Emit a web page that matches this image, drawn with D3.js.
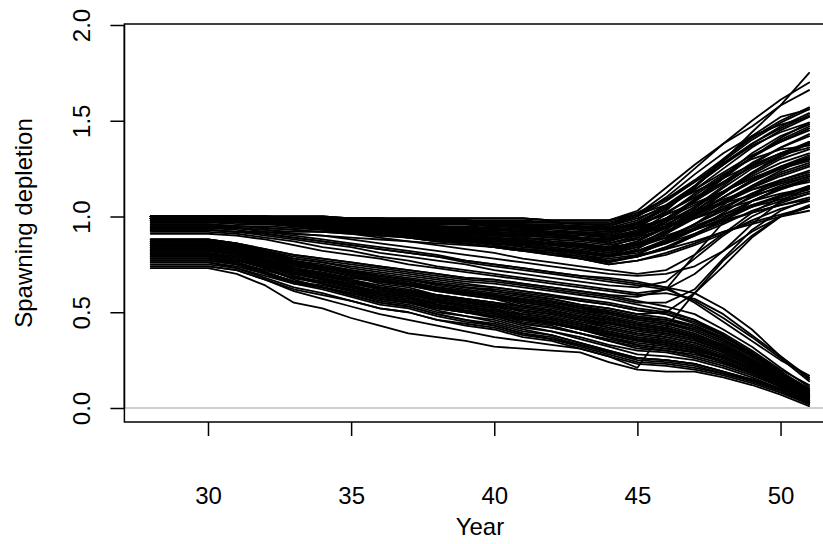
<!DOCTYPE html>
<html>
<head>
<meta charset="utf-8">
<script src="https://cdn.jsdelivr.net/npm/d3@7"></script>
<style>
  body { margin: 0; background: #fff; }
  svg text { font-family: "Liberation Sans", Arial, sans-serif; font-size: 24px; fill: #000; }
</style>
</head>
<body>
<svg id="chart" width="823" height="544"></svg>
<script>
// Simulation years
const years = [28,29,30,31,32,33,34,35,36,37,38,39,40,41,42,43,44,45,46,47,48,49,50,51];

// Axis ticks
const xTicks = [30, 35, 40, 45, 50];
const yTicks = [0, 0.5, 1, 1.5, 2];
const yTickLabels = ["0.0", "0.5", "1.0", "1.5", "2.0"];

// Runs that start near unfished level and recover late
const upperRuns = [
  [1.00,1.00,1.00,1.00,1.00,1.00,1.00,.99,.99,.99,.99,.99,.99,.99,.98,.98,.98,1.02,1.09,1.18,1.28,1.38,1.46,1.53],
  [1.00,1.00,1.00,1.00,1.00,.99,.99,.99,.99,.98,.98,.98,.97,.97,.97,.96,.96,1.00,1.08,1.18,1.29,1.40,1.49,1.56],
  [.99,.99,.99,.99,.98,.98,.98,.97,.97,.96,.96,.96,.95,.95,.94,.94,.93,.96,1.02,1.10,1.18,1.26,1.33,1.38],
  [1.00,1.00,1.00,1.00,.99,.99,.98,.98,.97,.97,.96,.96,.95,.94,.94,.93,.92,.96,1.04,1.14,1.25,1.36,1.45,1.52],
  [.99,.99,.99,.99,.98,.97,.97,.96,.95,.95,.94,.93,.93,.92,.91,.90,.89,.93,.99,1.08,1.17,1.26,1.33,1.39],
  [1.00,1.00,1.00,1.00,.99,.98,.97,.97,.96,.95,.94,.93,.92,.91,.91,.89,.88,.90,.95,1.01,1.07,1.14,1.19,1.23],
  [.99,.99,.99,.98,.98,.97,.96,.95,.94,.93,.92,.91,.90,.89,.88,.87,.85,.88,.94,1.02,1.10,1.18,1.25,1.30],
  [1.00,1.00,1.00,.99,.99,.98,.97,.96,.94,.93,.92,.91,.90,.89,.87,.86,.84,.89,.97,1.08,1.20,1.31,1.41,1.49],
  [.99,.99,.99,.98,.97,.96,.95,.94,.93,.91,.90,.89,.88,.86,.85,.83,.81,.84,.89,.96,1.03,1.10,1.16,1.21],
  [1.00,1.00,1.00,.99,.98,.97,.96,.94,.93,.92,.90,.89,.87,.86,.84,.82,.80,.82,.86,.91,.97,1.02,1.06,1.10],
  [.99,.99,.99,.98,.97,.96,.94,.93,.91,.90,.88,.87,.85,.83,.82,.79,.77,.79,.84,.90,.96,1.03,1.08,1.12],
  [1.00,1.00,1.00,.99,.98,.96,.95,.93,.92,.90,.88,.87,.85,.83,.81,.79,.76,.80,.87,.96,1.06,1.16,1.24,1.31],
  [.99,.99,.99,.98,.97,.95,.94,.92,.91,.89,.87,.86,.84,.82,.80,.78,.75,.77,.81,.86,.92,.97,1.01,1.05],
  [1.00,1.00,1.00,1.00,1.00,1.00,1.00,.99,.99,.99,.99,.99,.99,.99,.98,.98,.98,1.01,1.06,1.13,1.20,1.27,1.33,1.38],
  [.99,.99,.99,.99,.99,.98,.98,.98,.98,.97,.97,.97,.96,.96,.96,.95,.95,.99,1.05,1.14,1.23,1.32,1.39,1.45],
  [1.00,1.00,1.00,1.00,.99,.99,.99,.98,.98,.97,.97,.97,.96,.96,.95,.95,.94,.96,1.01,1.07,1.13,1.20,1.25,1.29],
  [.99,.99,.99,.99,.98,.98,.97,.97,.96,.96,.95,.95,.94,.93,.93,.92,.91,.95,1.02,1.11,1.21,1.31,1.39,1.46],
  [1.00,1.00,1.00,1.00,.99,.98,.98,.97,.96,.96,.95,.94,.94,.93,.92,.91,.90,.92,.95,.99,1.04,1.08,1.12,1.15],
  [.99,.99,.99,.99,.98,.97,.96,.96,.95,.94,.93,.92,.91,.90,.90,.88,.87,.91,.99,1.09,1.20,1.31,1.40,1.47],
  [1.00,1.00,1.00,.99,.99,.98,.97,.96,.95,.94,.93,.92,.91,.90,.89,.88,.86,.89,.94,1.01,1.08,1.15,1.21,1.26],
  [.99,.99,.99,.98,.98,.97,.96,.95,.93,.92,.91,.90,.89,.88,.86,.85,.83,.85,.89,.94,1.00,1.05,1.09,1.13],
  [1.00,1.00,1.00,.99,.98,.97,.96,.95,.94,.92,.91,.90,.89,.87,.86,.84,.82,.86,.92,1.01,1.10,1.19,1.26,1.32],
  [.99,.99,.99,.98,.97,.96,.95,.93,.92,.91,.89,.88,.86,.85,.83,.81,.79,.82,.88,.96,1.04,1.12,1.19,1.24],
  [1.00,1.00,1.00,.99,.98,.97,.95,.94,.92,.91,.89,.88,.86,.84,.83,.80,.78,.80,.83,.87,.92,.96,1.00,1.03],
  [.98,.98,.98,.98,.97,.96,.96,.95,.94,.94,.93,.92,.92,.91,.90,.89,.88,.91,.97,1.05,1.13,1.21,1.28,1.33],
  [.98,.98,.98,.98,.98,.97,.97,.97,.97,.96,.96,.96,.95,.95,.95,.94,.94,.98,1.06,1.16,1.27,1.38,1.47,1.54],
  [.97,.97,.97,.96,.96,.95,.94,.93,.92,.91,.90,.89,.88,.87,.86,.85,.83,.87,.94,1.03,1.13,1.23,1.31,1.38],
  [.97,.97,.97,.97,.96,.96,.96,.95,.95,.94,.94,.94,.93,.93,.92,.92,.91,.94,.99,1.06,1.13,1.20,1.26,1.31],
  [.96,.96,.96,.95,.95,.94,.93,.92,.90,.89,.88,.87,.86,.85,.83,.82,.80,.82,.87,.93,.99,1.06,1.11,1.15],
  [.95,.95,.95,.95,.94,.93,.92,.92,.91,.90,.89,.88,.87,.86,.86,.84,.83,.86,.92,1.00,1.08,1.16,1.23,1.28],
  [.94,.94,.94,.94,.93,.92,.92,.91,.90,.90,.89,.88,.88,.87,.86,.85,.84,.86,.90,.95,1.01,1.06,1.10,1.14],
  [.93,.93,.93,.92,.92,.91,.90,.89,.88,.87,.86,.85,.84,.83,.82,.81,.79,.82,.87,.94,1.01,1.08,1.14,1.19],
  [1.00,1.00,1.00,1.00,.99,.99,.98,.98,.97,.97,.96,.96,.95,.94,.94,.93,.92,.94,.98,1.03,1.09,1.14,1.18,1.22],
  [.99,.99,.99,.99,.99,.99,.99,.98,.98,.98,.98,.98,.98,.98,.97,.97,.97,1.01,1.09,1.19,1.30,1.41,1.50,1.57],
  [1.00,1.00,1.00,1.00,.99,.98,.97,.97,.96,.95,.94,.93,.92,.91,.91,.89,.88,.92,.99,1.08,1.18,1.28,1.36,1.43],
  [.99,.99,.99,.98,.97,.96,.95,.93,.92,.91,.89,.88,.86,.85,.83,.81,.79,.83,.91,1.01,1.12,1.23,1.32,1.39],
  [1.00,1.00,1.00,.99,.99,.98,.97,.96,.94,.93,.92,.91,.90,.89,.87,.86,.84,.86,.89,.93,.98,1.02,1.06,1.09],
  [.99,.99,.99,.99,.98,.98,.98,.97,.97,.96,.96,.96,.95,.95,.94,.94,.93,.95,.98,1.02,1.07,1.11,1.15,1.18],
  [1.00,1.00,1.00,.99,.98,.97,.96,.95,.94,.92,.91,.90,.89,.87,.86,.84,.82,.85,.91,.99,1.07,1.15,1.22,1.27],
  [.98,.98,.98,.97,.96,.95,.93,.92,.90,.89,.87,.86,.84,.82,.81,.78,.76,.79,.84,.91,.98,1.05,1.11,1.16],
  [1.00,1.00,1.00,1.00,1.00,.99,.99,.99,.99,.98,.98,.98,.97,.97,.97,.96,.96,1.01,1.12,1.25,1.38,1.50,1.61,1.70],
  [.99,.99,.99,.99,.98,.98,.98,.97,.97,.96,.96,.96,.95,.95,.94,.94,.93,.97,1.04,1.15,1.29,1.44,1.58,1.75],
  [1.00,1.00,1.00,1.00,1.00,1.00,1.00,.99,.99,.99,.99,.99,.99,.99,.98,.98,.98,1.03,1.15,1.27,1.38,1.47,1.58,1.66],
  [.98,.98,.98,.98,.97,.97,.96,.96,.95,.95,.94,.94,.93,.92,.92,.91,.90,.94,1.03,1.16,1.30,1.42,1.52,1.56],
  [1.00,1.00,1.00,1.00,1.00,.99,.99,.99,.99,.98,.98,.98,.97,.97,.97,.96,.95,1.00,1.10,1.22,1.33,1.42,1.48,1.52],
  [.99,.99,.99,.99,.98,.97,.96,.96,.95,.94,.93,.92,.91,.90,.90,.88,.87,.92,1.01,1.12,1.22,1.30,1.35,1.37],
  [1.00,1.00,1.00,.99,.98,.97,.96,.94,.93,.92,.90,.89,.87,.86,.84,.82,.80,.84,.91,1.00,1.10,1.19,1.26,1.30],
  [1.00,1.00,1.00,.99,.98,.97,.95,.94,.92,.91,.89,.88,.86,.84,.83,.80,.77,.79,.83,.90,.99,1.08,1.15,1.20],
  [.99,.99,.99,.98,.98,.97,.96,.95,.93,.92,.91,.90,.89,.88,.86,.85,.83,.87,.95,1.05,1.16,1.27,1.36,1.42],
  [.98,.98,.98,.98,.97,.97,.96,.96,.95,.95,.94,.94,.93,.92,.92,.91,.90,.92,.96,1.03,1.12,1.22,1.30,1.35],
  [1.00,1.00,1.00,.99,.99,.98,.97,.96,.95,.94,.93,.92,.91,.90,.89,.88,.86,.90,.98,1.09,1.21,1.33,1.42,1.48],
  [.99,.99,.99,.98,.97,.96,.95,.93,.92,.91,.89,.88,.86,.85,.83,.81,.79,.81,.86,.93,1.02,1.11,1.18,1.22],
  [1.00,1.00,1.00,1.00,.99,.99,.99,.98,.98,.97,.97,.97,.96,.96,.95,.95,.93,.97,1.05,1.16,1.27,1.37,1.44,1.49],
  [.99,.99,.99,.98,.97,.95,.94,.92,.91,.89,.87,.86,.84,.82,.80,.78,.75,.77,.80,.85,.91,.98,1.04,1.08],
  [1.00,1.00,1.00,1.00,.99,.98,.98,.97,.96,.96,.95,.94,.94,.93,.92,.91,.89,.91,.94,.99,1.05,1.12,1.17,1.21],
  [.98,.98,.98,.97,.97,.96,.95,.94,.92,.91,.90,.89,.88,.87,.85,.84,.81,.85,.93,1.04,1.15,1.25,1.32,1.36]
];

// Runs that start depleted and keep declining
const lowerRuns = [
  [.88,.88,.88,.86,.83,.80,.78,.76,.74,.72,.70,.68,.67,.65,.63,.61,.59,.56,.53,.49,.41,.32,.21,.11],
  [.87,.87,.87,.85,.82,.78,.76,.73,.71,.69,.67,.65,.63,.61,.59,.56,.54,.51,.49,.44,.38,.29,.19,.09],
  [.87,.87,.87,.85,.81,.77,.75,.72,.69,.67,.64,.62,.60,.58,.56,.53,.50,.47,.45,.41,.35,.27,.18,.08],
  [.86,.86,.86,.84,.81,.78,.76,.74,.72,.70,.68,.66,.65,.63,.61,.59,.57,.54,.51,.46,.38,.28,.16,.05],
  [.86,.86,.86,.84,.80,.75,.72,.69,.66,.64,.61,.59,.57,.53,.51,.48,.45,.42,.40,.37,.31,.24,.16,.08],
  [.85,.85,.85,.83,.80,.76,.74,.71,.69,.67,.65,.63,.61,.59,.57,.54,.52,.49,.47,.43,.36,.28,.18,.07],
  [.85,.85,.85,.83,.78,.73,.70,.67,.63,.61,.57,.55,.53,.49,.47,.44,.40,.37,.35,.32,.27,.21,.14,.06],
  [.84,.84,.84,.82,.78,.74,.72,.69,.66,.64,.61,.59,.57,.55,.53,.50,.47,.44,.42,.38,.33,.25,.17,.09],
  [.84,.84,.84,.81,.76,.71,.68,.64,.60,.58,.54,.51,.49,.45,.43,.39,.35,.31,.30,.27,.23,.18,.12,.05],
  [.83,.83,.83,.81,.78,.75,.73,.71,.69,.67,.65,.63,.62,.60,.58,.56,.54,.51,.49,.45,.38,.29,.18,.08],
  [.83,.83,.83,.81,.77,.72,.69,.66,.63,.61,.58,.56,.54,.50,.48,.45,.42,.39,.37,.34,.29,.22,.14,.05],
  [.82,.82,.82,.80,.77,.73,.71,.68,.66,.64,.62,.60,.58,.56,.54,.51,.49,.46,.44,.40,.34,.26,.17,.09],
  [.82,.82,.82,.80,.75,.70,.67,.64,.60,.58,.54,.52,.50,.46,.44,.41,.37,.34,.32,.29,.25,.19,.12,.04],
  [.81,.81,.81,.79,.75,.71,.69,.66,.63,.61,.58,.56,.54,.52,.50,.47,.44,.41,.39,.36,.30,.23,.15,.07],
  [.81,.81,.81,.78,.73,.67,.63,.59,.55,.53,.49,.46,.43,.39,.36,.32,.28,.24,.23,.21,.18,.14,.09,.03],
  [.80,.80,.80,.78,.75,.72,.70,.68,.66,.64,.62,.60,.59,.57,.55,.53,.51,.48,.46,.42,.36,.27,.18,.10],
  [.80,.80,.80,.78,.74,.69,.66,.63,.60,.58,.55,.53,.51,.47,.45,.42,.39,.36,.34,.31,.27,.21,.14,.07],
  [.79,.79,.79,.77,.74,.70,.68,.65,.63,.61,.59,.57,.55,.53,.51,.48,.46,.43,.41,.37,.32,.24,.16,.06],
  [.79,.79,.79,.76,.71,.66,.63,.59,.55,.53,.49,.46,.44,.40,.38,.34,.30,.26,.25,.23,.19,.15,.10,.04],
  [.78,.78,.78,.76,.72,.68,.66,.63,.60,.58,.55,.53,.51,.49,.47,.44,.41,.38,.36,.33,.28,.22,.14,.06],
  [.78,.78,.78,.76,.71,.66,.63,.60,.56,.54,.50,.48,.46,.42,.40,.37,.33,.30,.29,.26,.22,.17,.11,.04],
  [.77,.77,.77,.75,.72,.68,.66,.63,.61,.59,.57,.55,.53,.51,.49,.46,.44,.41,.39,.36,.30,.23,.15,.07],
  [.77,.77,.77,.75,.71,.66,.63,.60,.57,.55,.52,.50,.48,.44,.42,.39,.36,.33,.31,.29,.24,.19,.12,.03],
  [.76,.76,.76,.74,.70,.66,.64,.61,.58,.56,.53,.51,.49,.47,.45,.42,.39,.36,.34,.31,.27,.21,.13,.05],
  [.76,.76,.76,.73,.68,.63,.60,.56,.52,.50,.46,.43,.41,.37,.35,.31,.27,.23,.22,.20,.17,.13,.08,.02],
  [.88,.88,.88,.86,.82,.77,.74,.71,.68,.66,.63,.61,.59,.55,.53,.50,.47,.44,.42,.38,.33,.25,.16,.06],
  [.87,.87,.87,.85,.80,.75,.72,.69,.65,.63,.59,.57,.55,.51,.49,.46,.42,.39,.37,.34,.29,.22,.14,.05],
  [.86,.86,.86,.83,.78,.73,.70,.66,.62,.60,.56,.53,.51,.47,.45,.41,.37,.33,.31,.29,.24,.19,.12,.04],
  [.85,.85,.85,.83,.79,.75,.73,.70,.67,.65,.62,.60,.58,.56,.54,.51,.48,.45,.43,.39,.33,.25,.16,.05],
  [.84,.84,.84,.82,.79,.76,.74,.72,.70,.68,.66,.64,.63,.61,.59,.57,.55,.52,.50,.46,.39,.30,.20,.12],
  [.83,.83,.83,.80,.75,.69,.65,.61,.57,.55,.51,.48,.45,.41,.38,.34,.30,.26,.25,.23,.19,.14,.09,.02],
  [.80,.80,.80,.78,.73,.68,.65,.62,.58,.56,.52,.50,.48,.44,.42,.39,.35,.32,.30,.28,.24,.18,.11,.03],
  [.75,.75,.75,.73,.69,.65,.63,.60,.57,.55,.52,.50,.48,.46,.44,.41,.38,.35,.33,.30,.26,.20,.13,.06],
  [.74,.74,.74,.72,.67,.62,.59,.56,.52,.50,.46,.44,.42,.38,.36,.33,.29,.26,.25,.23,.19,.15,.10,.03],
  [.73,.73,.73,.70,.64,.55,.52,.47,.43,.39,.37,.35,.32,.31,.30,.29,.24,.20,.19,.19,.16,.12,.07,.01],
  [.82,.82,.82,.80,.76,.72,.70,.67,.64,.62,.59,.57,.55,.53,.51,.48,.45,.42,.40,.37,.31,.24,.16,.08],
  [.79,.79,.79,.77,.73,.68,.65,.62,.59,.57,.54,.52,.50,.46,.44,.41,.38,.35,.33,.30,.26,.20,.13,.05],
  [.87,.87,.87,.85,.81,.76,.73,.70,.67,.65,.62,.60,.58,.54,.52,.49,.46,.43,.41,.37,.32,.24,.15,.05],
  [.86,.86,.86,.84,.80,.76,.74,.71,.68,.66,.63,.61,.59,.57,.55,.52,.49,.46,.44,.41,.35,.27,.18,.09],
  [.84,.84,.84,.82,.77,.72,.69,.66,.62,.60,.56,.54,.52,.48,.46,.43,.39,.36,.34,.31,.26,.20,.13,.04],
  [.83,.83,.83,.81,.78,.74,.72,.69,.67,.65,.63,.61,.59,.57,.55,.52,.50,.47,.46,.43,.37,.29,.19,.10],
  [.81,.81,.81,.79,.75,.70,.67,.64,.61,.59,.56,.54,.52,.48,.46,.43,.40,.37,.35,.32,.27,.20,.12,.03],
  [.80,.80,.80,.78,.74,.70,.68,.65,.62,.60,.57,.55,.53,.51,.49,.46,.43,.40,.38,.35,.30,.23,.15,.07],
  [.78,.78,.78,.75,.70,.65,.62,.58,.54,.52,.48,.45,.43,.39,.37,.33,.29,.25,.24,.22,.18,.14,.09,.02],
  [.85,.85,.85,.82,.77,.71,.67,.63,.59,.57,.53,.50,.47,.43,.40,.36,.32,.28,.27,.25,.21,.16,.10,.03]
];

// Runs that switch between the two groups
const crossingRuns = [
  [.95,.95,.95,.94,.92,.90,.88,.86,.84,.82,.80,.77,.75,.73,.71,.69,.67,.65,.63,.55,.45,.35,.25,.17],
  [.93,.93,.93,.92,.90,.88,.86,.84,.81,.79,.77,.75,.72,.70,.68,.66,.64,.63,.66,.78,.90,1.00,1.07,1.12],
  [.94,.94,.94,.93,.91,.89,.87,.85,.83,.81,.79,.76,.74,.72,.70,.68,.66,.64,.62,.56,.47,.37,.26,.14],
  [.92,.92,.92,.91,.89,.87,.84,.82,.79,.77,.74,.72,.70,.68,.66,.64,.62,.60,.62,.80,.97,1.08,1.15,1.19],
  [.96,.96,.96,.95,.94,.93,.92,.91,.89,.87,.85,.83,.81,.78,.76,.74,.72,.70,.72,.80,.91,1.02,1.10,1.16],
  [.91,.91,.91,.90,.88,.85,.82,.80,.78,.75,.73,.71,.69,.67,.65,.63,.61,.59,.60,.57,.49,.38,.27,.15],
  [.95,.95,.95,.94,.93,.91,.90,.88,.86,.84,.82,.80,.78,.76,.74,.72,.70,.69,.70,.74,.82,.92,1.00,1.05],
  [.93,.93,.93,.92,.91,.89,.87,.85,.83,.81,.79,.77,.75,.73,.71,.69,.68,.66,.63,.60,.52,.41,.27,.16],
  [.74,.74,.74,.72,.67,.61,.57,.53,.49,.46,.43,.40,.37,.35,.33,.31,.27,.21,.42,.60,.77,.90,1.00,1.06],
  [.87,.87,.87,.85,.82,.79,.77,.75,.73,.71,.69,.67,.66,.64,.62,.60,.58,.55,.55,.62,.78,.93,1.03,1.09],
  [.85,.85,.85,.83,.80,.76,.74,.71,.69,.67,.65,.63,.61,.59,.57,.54,.52,.49,.50,.60,.74,.89,1.00,1.05],
  [.88,.88,.88,.86,.83,.80,.78,.76,.74,.72,.70,.68,.67,.65,.63,.61,.59,.58,.62,.70,.82,.96,1.08,1.15]
];

const svg = d3.select("#chart");

// Scales: x covers the year range plus R-style 4% padding
const x = d3.scaleLinear().domain([27.08, 51.92]).range([124.4, 835.5]);
const y = d3.scaleLinear().domain([0, 2]).range([408, 25]);
const plotTop = 24, plotBottom = 422;

// Reference line at zero
svg.append("line")
  .attr("x1", x.range()[0]).attr("x2", x.range()[1])
  .attr("y1", y(0)).attr("y2", y(0))
  .attr("stroke", "#bebebe").attr("stroke-width", 1.5);

// Trajectories
const line = d3.line()
  .x((d, i) => x(years[i]))
  .y(d => y(d));

const allRuns = upperRuns.concat(lowerRuns, crossingRuns);
svg.append("g")
  .attr("fill", "none")
  .attr("stroke", "#000")
  .attr("stroke-width", 1.8)
  .attr("stroke-linejoin", "round")
  .attr("stroke-linecap", "round")
  .selectAll("path")
  .data(allRuns)
  .join("path")
  .attr("d", line);

// Plot frame
svg.append("rect")
  .attr("x", x.range()[0]).attr("y", plotTop)
  .attr("width", x.range()[1] - x.range()[0])
  .attr("height", plotBottom - plotTop)
  .attr("fill", "none").attr("stroke", "#000").attr("stroke-width", 1.5);

// Bottom axis
const xAxis = svg.append("g")
  .attr("transform", `translate(0,${plotBottom})`)
  .call(d3.axisBottom(x).tickValues(xTicks).tickSize(14).tickSizeOuter(0).tickFormat(d3.format("d")));
xAxis.select(".domain").remove();
xAxis.attr("font-family", null).attr("font-size", null);
xAxis.selectAll(".tick line").attr("stroke", "#000").attr("stroke-width", 1.5);
xAxis.selectAll(".tick text").attr("y", 82).attr("dy", null);

// Left axis
const yAxis = svg.append("g")
  .attr("transform", `translate(${x.range()[0]},0)`)
  .call(d3.axisLeft(y).tickValues(yTicks).tickSize(14).tickSizeOuter(0)
    .tickFormat((d, i) => yTickLabels[i]));
yAxis.select(".domain").remove();
yAxis.append("line")
  .attr("x1", 0).attr("x2", 0)
  .attr("y1", y(yTicks[0])).attr("y2", y(yTicks[yTicks.length - 1]))
  .attr("stroke", "#000").attr("stroke-width", 1.5);
yAxis.attr("font-family", null).attr("font-size", null);
yAxis.selectAll(".tick line").attr("stroke", "#000").attr("stroke-width", 1.5);
yAxis.selectAll(".tick text")
  .attr("x", null).attr("dy", null)
  .attr("text-anchor", "middle")
  .attr("transform", "translate(-34,0) rotate(-90)");

// Axis titles
svg.append("text")
  .attr("x", (x.range()[0] + x.range()[1]) / 2)
  .attr("y", 535)
  .attr("text-anchor", "middle")
  .text("Year");

svg.append("text")
  .attr("transform", `translate(32,${(plotTop + plotBottom) / 2}) rotate(-90)`)
  .attr("text-anchor", "middle")
  .text("Spawning depletion");
</script>
</body>
</html>
